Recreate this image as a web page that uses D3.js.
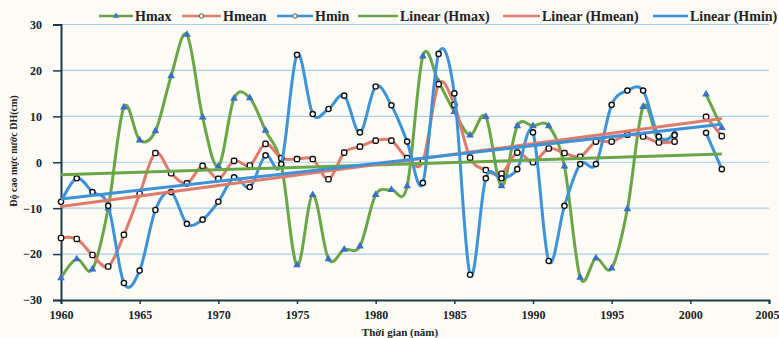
<!DOCTYPE html>
<html>
<head>
<meta charset="utf-8">
<script src="https://cdn.jsdelivr.net/npm/d3@7"></script>
<style>
  body { margin: 0; background: #fdfbf6; }
  svg { display: block; }
  text { font-family: "Liberation Serif", "Times New Roman", serif; font-weight: bold; fill: #222; }
</style>
</head>
<body>
<svg id="chart" width="779" height="338"></svg>
<script>
// Water level deviation (cm) by year; 2000 has no record.
const years = [1960,1961,1962,1963,1964,1965,1966,1967,1968,1969,
               1970,1971,1972,1973,1974,1975,1976,1977,1978,1979,
               1980,1981,1982,1983,1984,1985,1986,1987,1988,1989,
               1990,1991,1992,1993,1994,1995,1996,1997,1998,1999,
               2000,2001,2002];

const hmax = [-25.2,-21.1,-23.3,-10.0,12.0,4.8,6.8,18.8,27.8,9.8,
              -0.9,13.9,14.0,6.9,-0.5,-22.4,-7.1,-21.1,-19.0,-18.3,
              -7.1,-6.0,-5.2,23.1,17.5,11.0,5.9,9.9,-5.2,7.9,
              7.9,7.9,-0.9,-25.1,-20.9,-23.1,-10.2,12.1,4.5,6.5,
              null,14.8,7.5];

const hmean = [-16.5,-16.7,-20.2,-22.7,-15.8,-6.9,2.0,-2.4,-4.6,-0.8,
               -3.6,0.3,-0.7,4.0,0.9,0.7,0.7,-3.7,2.1,3.4,
               4.7,4.7,0.9,0.2,17.0,12.5,1.0,-1.7,-2.5,2.1,
               0.0,3.0,2.0,1.2,4.5,4.5,6.0,5.6,4.3,4.5,
               null,9.9,5.7];

const hmin = [-8.6,-3.5,-6.5,-9.5,-26.3,-23.6,-10.4,-6.5,-13.4,-12.5,
              -8.6,-3.3,-5.4,1.5,-0.4,23.4,10.5,11.6,14.5,6.5,
              16.5,12.4,4.5,-4.5,23.6,15.0,-24.5,-3.5,-3.5,-1.5,
              6.5,-21.5,-9.5,-0.4,-0.4,12.5,15.6,15.6,5.6,5.9,
              null,6.4,-1.5];

const xTicks = [1960,1965,1970,1975,1980,1985,1990,1995,2000,2005];
const yTicks = [-30,-20,-10,0,10,20,30];

const seriesNames = ["Hmax","Hmean","Hmin"];
const trendNames = ["Linear (Hmax)","Linear (Hmean)","Linear (Hmin)"];

const colors = { Hmax: "#6aa646", Hmean: "#e07a6a", Hmin: "#3d92d8" };
const triColor = "#3a6fc4";

const svg = d3.select("#chart");
const margin = { left: 61, right: 10, top: 24.5, bottom: 38 };
const W = 779, H = 338;

const x = d3.scaleLinear().domain([1960, 2005]).range([margin.left, W - margin.right]);
const y = d3.scaleLinear().domain([-30, 30]).range([H - margin.bottom, margin.top]);

// horizontal gridlines
svg.append("g")
  .selectAll("line")
  .data(yTicks.filter(v => v > -30))
  .join("line")
  .attr("x1", x(1960)).attr("x2", x(2005))
  .attr("y1", d => y(d)).attr("y2", d => y(d))
  .attr("stroke", "#a9cde6").attr("stroke-width", 1.2);

// axes
const yAxis = svg.append("g")
  .attr("transform", `translate(${x(1960)},0)`)
  .call(d3.axisLeft(y).tickValues(yTicks).tickSize(8).tickPadding(11).tickFormat(d3.format("d")));
yAxis.select(".domain").attr("stroke", "#1d3a48").attr("stroke-width", 2);
yAxis.selectAll(".tick line").attr("stroke", "#1d3a48").attr("stroke-width", 1.5);
yAxis.selectAll(".tick text").attr("font-size", 12).attr("fill", "#222")
  .style("font-family", "'Liberation Serif', serif").style("font-weight", "bold");

const xAxis = svg.append("g")
  .attr("transform", `translate(0,${y(-30)})`)
  .call(d3.axisBottom(x).tickValues(xTicks).tickSize(4).tickPadding(6).tickFormat(d3.format("d")));
xAxis.select(".domain").attr("stroke", "#1d3a48").attr("stroke-width", 2);
xAxis.selectAll(".tick line").attr("stroke", "#1d3a48").attr("stroke-width", 1.5);
xAxis.selectAll(".tick text").attr("font-size", 12).attr("fill", "#222")
  .style("font-family", "'Liberation Serif', serif").style("font-weight", "bold");
// keep the last year label inside the frame
xAxis.selectAll(".tick text").filter(d => d === 2005)
  .attr("text-anchor", "end").attr("dx", 10);

// axis titles
svg.append("text")
  .attr("x", 400).attr("y", 336)
  .attr("text-anchor", "middle").attr("font-size", 11)
  .text("Thời gian (năm)");
svg.append("text")
  .attr("transform", `translate(17,151) rotate(-90)`)
  .attr("text-anchor", "middle").attr("font-size", 10)
  .text("Độ cao mực nước DH(cm)");

const data = { Hmax: hmax, Hmean: hmean, Hmin: hmin };

// smoothed series lines with a break where the value is missing
const line = d3.line()
  .defined(d => d[1] !== null)
  .x(d => x(d[0])).y(d => y(d[1]))
  .curve(d3.curveCardinal.tension(0));

const plot = svg.append("g");

// least-squares trend over the recorded years
function fit(vals) {
  const pts = years.map((yr, i) => [yr, vals[i]]).filter(p => p[1] !== null);
  const mx = d3.mean(pts, p => p[0]), my = d3.mean(pts, p => p[1]);
  const b = d3.sum(pts, p => (p[0] - mx) * (p[1] - my)) / d3.sum(pts, p => (p[0] - mx) ** 2);
  const a = my - b * mx;
  const x0 = d3.min(pts, p => p[0]), x1 = d3.max(pts, p => p[0]);
  return [[x0, a + b * x0], [x1, a + b * x1]];
}

function drawMarkers(g, name, pts) {
  const valid = pts.filter(p => p[1] !== null);
  if (name === "Hmax") {
    g.selectAll("path.m").data(valid).join("path").attr("class", "m")
      .attr("d", d3.symbol(d3.symbolTriangle, 26))
      .attr("transform", d => `translate(${x(d[0])},${y(d[1])})`)
      .attr("fill", triColor);
  } else if (name === "Hmean") {
    g.selectAll("rect.m").data(valid).join("rect").attr("class", "m")
      .attr("x", d => x(d[0]) - 2.6).attr("y", d => y(d[1]) - 2.6)
      .attr("width", 5.2).attr("height", 5.2).attr("rx", 1.6)
      .attr("fill", "#fff").attr("stroke", "#111").attr("stroke-width", 1.4);
  } else {
    g.selectAll("circle.m").data(valid).join("circle").attr("class", "m")
      .attr("cx", d => x(d[0])).attr("cy", d => y(d[1])).attr("r", 2.6)
      .attr("fill", "#fff").attr("stroke", "#111").attr("stroke-width", 1.4);
  }
}

seriesNames.forEach(name => {
  const pts = years.map((yr, i) => [yr, data[name][i]]);
  const g = plot.append("g");
  g.append("path").datum(pts).attr("d", line)
    .attr("fill", "none").attr("stroke", colors[name]).attr("stroke-width", 3)
    .attr("stroke-linejoin", "round").attr("stroke-linecap", "round");
  drawMarkers(g, name, pts);
});

seriesNames.forEach(name => {
  const seg = fit(data[name]);
  plot.append("line")
    .attr("x1", x(seg[0][0])).attr("y1", y(seg[0][1]))
    .attr("x2", x(seg[1][0])).attr("y2", y(seg[1][1]))
    .attr("stroke", colors[name]).attr("stroke-width", 3);
});

// legend along the top
const legend = svg.append("g");
const legendItems = [
  { label: "Hmax", color: colors.Hmax, x0: 99, x1: 133, marker: "tri" },
  { label: "Hmean", color: colors.Hmean, x0: 182, x1: 221, marker: "rect" },
  { label: "Hmin", color: colors.Hmin, x0: 277, x1: 313, marker: "circ" },
  { label: trendNames[0], color: colors.Hmax, x0: 358, x1: 398 },
  { label: trendNames[1], color: colors.Hmean, x0: 503, x1: 540 },
  { label: trendNames[2], color: colors.Hmin, x0: 653, x1: 688 }
];
const ly = 16;
legendItems.forEach(it => {
  legend.append("line").attr("x1", it.x0).attr("x2", it.x1).attr("y1", ly).attr("y2", ly)
    .attr("stroke", it.color).attr("stroke-width", 2.5);
  const mx = (it.x0 + it.x1) / 2;
  if (it.marker === "tri") {
    legend.append("path").attr("d", d3.symbol(d3.symbolTriangle, 16))
      .attr("transform", `translate(${mx},${ly})`).attr("fill", triColor);
  } else if (it.marker) {
    legend.append("circle").attr("cx", mx).attr("cy", ly).attr("r", 2.2)
      .attr("fill", "#fff").attr("stroke", "#555").attr("stroke-width", 1);
  }
  legend.append("text").attr("x", it.x1 + 2).attr("y", ly + 4.5)
    .attr("font-size", 14).text(it.label);
});
</script>
</body>
</html>
